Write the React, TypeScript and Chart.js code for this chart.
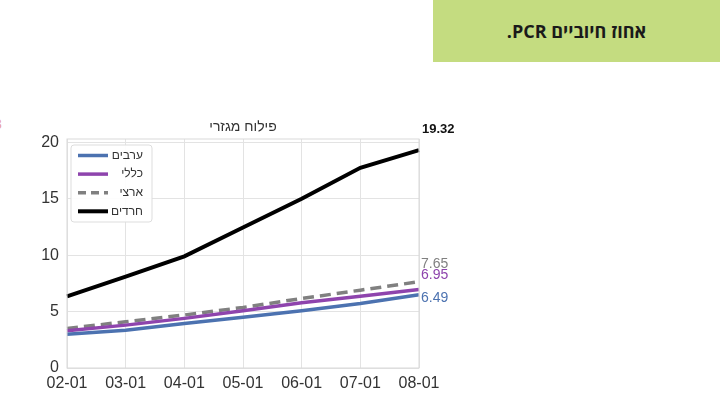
import React, { useEffect, useRef } from "react";
import { Chart, registerables } from "chart.js";

Chart.register(...registerables);

const categories = ["02-01", "03-01", "04-01", "05-01", "06-01", "07-01", "08-01"];
const arabs = [3.0, 3.35, 3.95, 4.5, 5.07, 5.72, 6.49];
const general = [3.3, 3.8, 4.4, 5.07, 5.78, 6.37, 6.95];
const national = [3.5, 4.1, 4.7, 5.37, 6.16, 6.9, 7.65];
const haredim = [6.35, 8.1, 9.9, 12.45, 15.0, 17.75, 19.32];
const seriesNames = ["ערבים", "כללי", "ארצי", "חרדים"];
const yTicks = [0, 5, 10, 15, 20];
const chartTitle = "פילוח מגזרי";
const heading = "אחוז חיוביים PCR.";

const colors = ["#4c72b0", "#8e44ad", "#808080", "#000000"];
const labelOffsets = [3, -14, -18, -21];

const overlayPlugin = {
  id: "overlay",
  afterDraw(chart: any) {
    const { ctx, chartArea } = chart;
    ctx.save();
    ctx.strokeStyle = "#d9d9d9";
    ctx.lineWidth = 1;
    ctx.strokeRect(chartArea.left, chartArea.top, chartArea.right - chartArea.left, chartArea.bottom - chartArea.top);
    ctx.fillStyle = "#333";
    ctx.font = "14px 'Liberation Sans', Arial, sans-serif";
    ctx.textAlign = "center";
    ctx.textBaseline = "middle";
    ctx.fillText(chartTitle, (chartArea.left + chartArea.right) / 2, 127);
    const ys = chart.scales.y;
    chart.data.datasets.forEach((ds: any, i: number) => {
      const v = ds.data[ds.data.length - 1];
      const y = ys.getPixelForValue(v) + labelOffsets[i];
      ctx.fillStyle = i === 3 ? "#111" : ds.borderColor;
      ctx.font = (i === 3 ? "bold 13px" : "14px") + " 'Liberation Sans', Arial, sans-serif";
      ctx.textAlign = "left";
      ctx.fillText(v.toFixed(2), chartArea.right + (i === 3 ? 3 : 2), y);
    });
    const lx = 71, ly = 145, lw = 81, lh = 77;
    ctx.fillStyle = "rgba(255,255,255,0.9)";
    ctx.strokeStyle = "#dddddd";
    ctx.beginPath();
    (ctx as any).roundRect(lx, ly, lw, lh, 3);
    ctx.fill();
    ctx.stroke();
    chart.data.datasets.forEach((ds: any, i: number) => {
      const y = ly + 10.5 + i * 18.6;
      ctx.strokeStyle = ds.borderColor;
      ctx.lineWidth = i === 3 ? 4 : 3.5;
      ctx.setLineDash(ds.borderDash ? [8, 5] : []);
      ctx.beginPath();
      ctx.moveTo(78, y);
      ctx.lineTo(108, y);
      ctx.stroke();
      ctx.setLineDash([]);
      ctx.fillStyle = "#333";
      ctx.font = "12px 'Liberation Sans', Arial, sans-serif";
      ctx.textAlign = "right";
      ctx.textBaseline = "middle";
      ctx.fillText(ds.label, 143, y);
    });
    ctx.restore();
  },
};

export default function App() {
  const ref = useRef<HTMLCanvasElement>(null);
  useEffect(() => {
    if (!ref.current) return;
    const font = { family: "'Liberation Sans', Arial, sans-serif", size: 16 };
    const chart = new Chart(ref.current, {
      type: "line",
      data: {
        labels: categories,
        datasets: [
          { label: seriesNames[0], data: arabs, borderColor: colors[0], borderWidth: 3.5, pointRadius: 0, tension: 0 },
          { label: seriesNames[1], data: general, borderColor: colors[1], borderWidth: 3.5, pointRadius: 0, tension: 0 },
          { label: seriesNames[2], data: national, borderColor: colors[2], borderWidth: 3.5, borderDash: [11, 6], pointRadius: 0, tension: 0 },
          { label: seriesNames[3], data: haredim, borderColor: colors[3], borderWidth: 4, pointRadius: 0, tension: 0 },
        ],
      },
      options: {
        animation: false,
        responsive: false,
        layout: { padding: { left: 0, right: 301, top: 139, bottom: 0 } },
        plugins: { legend: { display: false }, tooltip: { enabled: false }, title: { display: false } },
        scales: {
          x: {
            grid: { color: "#e3e3e3", drawTicks: false },
            border: { display: false },
            offset: false,
            ticks: { color: "#333", font, padding: 6, maxRotation: 0, autoSkip: false },
            afterFit: (s: any) => { s.height = 48; },
          },
          y: {
            min: 0,
            max: 20.3,
            grid: { color: "#e3e3e3", drawTicks: false },
            border: { display: false },
            afterBuildTicks: (s: any) => { s.ticks = yTicks.map((v) => ({ value: v })); },
            ticks: { color: "#333", font, padding: 8 },
            afterFit: (s: any) => { s.width = 67; },
          },
        },
      },
      plugins: [overlayPlugin],
    });
    return () => chart.destroy();
  }, []);
  return (
    <div style={{ position: "absolute", left: 0, top: 0, width: 720, height: 416, background: "#fff", overflow: "hidden" }}>
      <div
        style={{
          position: "absolute", left: 433, top: 0, width: 287, height: 62, background: "#c4dc80",
          display: "flex", alignItems: "center", justifyContent: "center", direction: "rtl",
          fontFamily: "'Open Sans', 'Liberation Sans', sans-serif", fontWeight: 700, fontSize: 18, color: "#1a1a1a",
        }}
      >
        {heading}
      </div>
      <div style={{ position: "absolute", left: -6, top: 116, fontFamily: "'Liberation Sans', sans-serif", fontSize: 14, color: "#e8a0a0" }}>3</div>
      <canvas ref={ref} width={720} height={416} style={{ position: "absolute", left: 0, top: 0 }} />
    </div>
  );
}
